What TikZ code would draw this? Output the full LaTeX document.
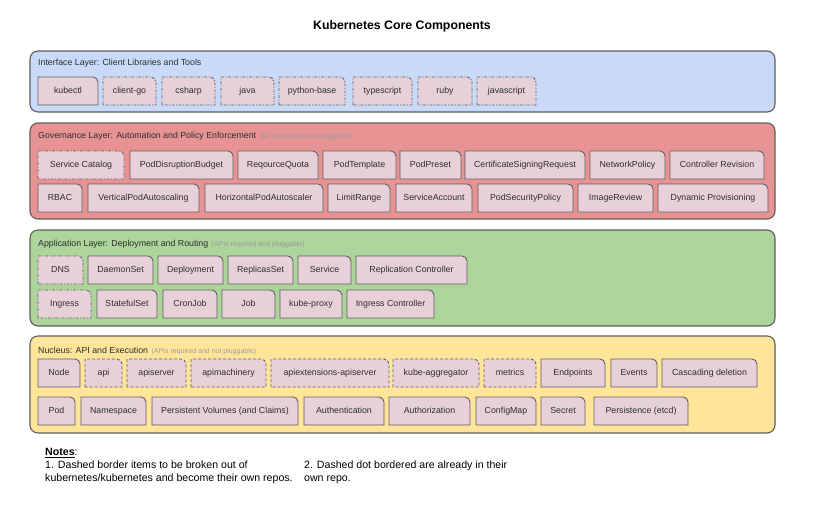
\documentclass[tikz,border=0pt]{standalone}
\usepackage{fontspec}
\setmainfont{Liberation Sans}
\usetikzlibrary{positioning}

\definecolor{ifacefill}{HTML}{C9DAF8}
\definecolor{govfill}{HTML}{E89393}
\definecolor{appfill}{HTML}{ADD49B}
\definecolor{nucfill}{HTML}{FFE59A}
\definecolor{compfill}{HTML}{E8D0DA}
\definecolor{edge}{HTML}{5F5F5F}
\definecolor{inktext}{HTML}{2E2E2E}
\definecolor{hintgrey}{HTML}{9A9A9A}

\tikzset{
  layerbox/.style={draw=edge, line width=1.1pt, rounded corners=8pt},
  layerlabel/.style={anchor=west, inner sep=0pt, font=\fontsize{8.8}{10}\selectfont, text=inktext},
  hint/.style={inner sep=0pt, font=\fontsize{7}{8}\selectfont, text=hintgrey},
  comp/.style={inner sep=0pt, text height=6.6pt, text depth=1.9pt, font=\fontsize{8.8}{10}\selectfont, text=inktext},
  solidbox/.style={fill=compfill, draw=edge, line width=0.9pt},
  dashbox/.style={solidbox, dash pattern=on 3pt off 2pt},
  dotbox/.style={solidbox, dash pattern=on 3pt off 1.5pt on 1pt off 1.5pt},
  notetext/.style={anchor=north west, align=left, inner sep=0pt, font=\fontsize{10.6}{12.8}\selectfont},
}

% component box: [outline]{name}{left}{top}{right}{text}
\newcommand{\kcomp}[6][solidbox]{%
  \filldraw[#1] (#3,#4+28) -- (#3,#4) -- (#5-5,#4) arc[start angle=90, end angle=0, radius=5pt] -- (#5,#4+28) -- cycle;
  \node[comp] (#2) at ({(#3+#5)/2},#4+14.5) {#6};
}

\begin{document}
\begin{tikzpicture}[x=1pt, y=-1pt]
\useasboundingbox[fill=white] (0,0) rectangle (830,514);

\node[font=\bfseries\fontsize{12.3}{14}\selectfont] (title) at (402,26) {Kubernetes Core Components};

% layers
\draw[layerbox, fill=ifacefill] (30,51) rectangle (775,112);
\draw[layerbox, fill=govfill] (30,123) rectangle (775,219);
\draw[layerbox, fill=appfill] (30,230) rectangle (775,326);
\draw[layerbox, fill=nucfill] (30,336) rectangle (775,433);

\node[layerlabel] (ifacelabel) at (38,63) {Interface Layer: Client Libraries and Tools};
\node[layerlabel] (govlabel) at (38,136) {Governance Layer: Automation and Policy Enforcement};
\node[hint, base right=3pt of govlabel] (govhint) {(APIs optional and pluggable)};
\node[layerlabel] (applabel) at (38,244) {Application Layer: Deployment and Routing};
\node[hint, base right=3pt of applabel] (apphint) {(APIs required and pluggable)};
\node[layerlabel] (nuclabel) at (38,350) {Nucleus: API and Execution};
\node[hint, base right=3pt of nuclabel] (nuchint) {(APIs required and not pluggable)};

% interface layer
\kcomp{kubectl}{38}{77}{98}{kubectl}
\kcomp[dotbox]{clientgo}{103}{77}{156}{client-go}
\kcomp[dotbox]{csharp}{162}{77}{215}{csharp}
\kcomp[dotbox]{java}{221}{77}{274}{java}
\kcomp[dotbox]{pybase}{279}{77}{345}{python-base}
\kcomp[dotbox]{tscript}{353}{77}{412}{typescript}
\kcomp[dotbox]{ruby}{418}{77}{472}{ruby}
\kcomp[dotbox]{jscript}{477}{77}{536}{javascript}

% governance layer
\kcomp[dotbox]{svccatalog}{38}{151}{124}{Service Catalog}
\kcomp{pdb}{130}{151}{233}{PodDisruptionBudget}
\kcomp{quota}{238}{151}{318}{ReqourceQuota}
\kcomp{podtemplate}{323}{151}{396}{PodTemplate}
\kcomp{podpreset}{400}{151}{461}{PodPreset}
\kcomp{csr}{465}{151}{585}{CertificateSigningRequest}
\kcomp{netpolicy}{590}{151}{665}{NetworkPolicy}
\kcomp{ctrlrev}{670}{151}{764}{Controller Revision}
\kcomp{rbac}{38}{184}{82}{RBAC}
\kcomp{vpa}{88}{184}{199}{VerticalPodAutoscaling}
\kcomp{hpa}{205}{184}{323}{HorizontalPodAutoscaler}
\kcomp{limitrange}{328}{184}{390}{LimitRange}
\kcomp{svcaccount}{396}{184}{472}{ServiceAccount}
\kcomp{psp}{478}{184}{573}{PodSecurityPolicy}
\kcomp{imgreview}{578}{184}{653}{ImageReview}
\kcomp{dynprov}{658}{184}{768}{Dynamic Provisioning}

% application layer
\kcomp[dotbox]{dns}{38}{256}{83}{DNS}
\kcomp{daemonset}{88}{256}{153}{DaemonSet}
\kcomp{deployment}{158}{256}{223}{Deployment}
\kcomp{replicaset}{228}{256}{293}{ReplicasSet}
\kcomp{service}{298}{256}{351}{Service}
\kcomp{rc}{356}{256}{467}{Replication Controller}
\kcomp[dotbox]{ingress}{38}{290}{91}{Ingress}
\kcomp{statefulset}{97}{290}{157}{StatefulSet}
\kcomp{cronjob}{163}{290}{217}{CronJob}
\kcomp{job}{222}{290}{275}{Job}
\kcomp{kubeproxy}{280}{290}{342}{kube-proxy}
\kcomp{ingressctrl}{347}{290}{434}{Ingress Controller}

% nucleus
\kcomp{node}{38}{359}{80}{Node}
\kcomp[dashbox]{api}{85}{359}{122}{api}
\kcomp[dashbox]{apiserver}{127}{359}{186}{apiserver}
\kcomp[dashbox]{apimachinery}{191}{359}{266}{apimachinery}
\kcomp[dashbox]{apiext}{271}{359}{389}{apiextensions-apiserver}
\kcomp[dashbox]{aggregator}{393}{359}{479}{kube-aggregator}
\kcomp[dashbox]{metrics}{484}{359}{536}{metrics}
\kcomp{endpoints}{541}{359}{605}{Endpoints}
\kcomp{events}{611}{359}{657}{Events}
\kcomp{cascade}{662}{359}{757}{Cascading deletion}
\kcomp{pod}{38}{397}{75}{Pod}
\kcomp{namespace}{81}{397}{146}{Namespace}
\kcomp{pv}{152}{397}{298}{Persistent Volumes (and Claims)}
\kcomp{authn}{304}{397}{384}{Authentication}
\kcomp{authz}{389}{397}{470}{Authorization}
\kcomp{configmap}{476}{397}{536}{ConfigMap}
\kcomp{secret}{541}{397}{585}{Secret}
\kcomp{etcd}{594}{397}{688}{Persistence (etcd)}

% notes
\node[notetext] (note1) at (45,448) {\underline{\textbf{Notes}}:\\1. Dashed border items to be broken out of\\kubernetes/kubernetes and become their own repos.};
\node[notetext] (note2) at (304,461) {2. Dashed dot bordered are already in their\\own repo.};
\end{tikzpicture}
\end{document}
